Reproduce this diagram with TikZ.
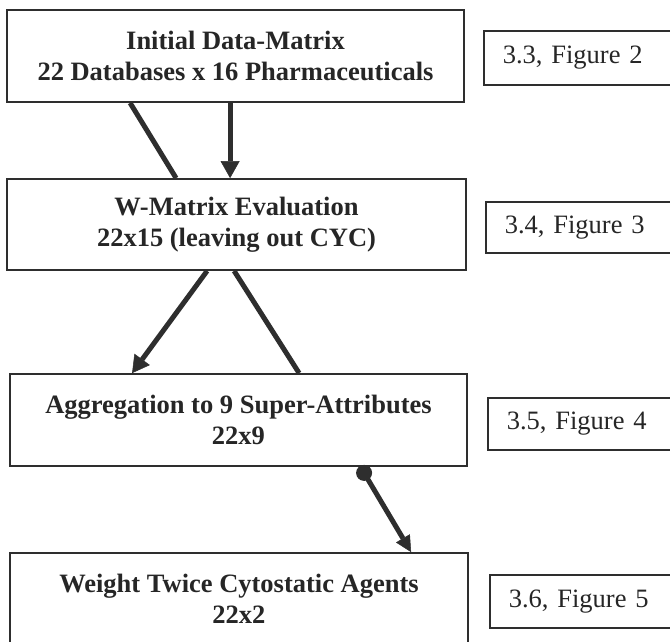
\documentclass[tikz,border=0pt]{standalone}
\usepackage{fontspec}
\setmainfont{Liberation Serif}
\usetikzlibrary{arrows.meta,calc}
\begin{document}
\begin{tikzpicture}[x=1pt,y=-1pt,
  mainbox/.style={draw=black!82, line width=1.8pt, align=center,
    font=\bfseries\fontsize{26.5}{31}\selectfont, text=black!85, inner sep=0pt},
  refbox/.style={draw=black!82, line width=1.6pt, anchor=west, text width=180pt,
    inner xsep=19pt, inner ysep=0pt, align=left,
    font=\fontsize{26.5}{31}\selectfont, text=black!85},
  conn/.style={draw=black!82, line width=5pt},
  arr/.style={conn, -{Triangle[width=19pt,length=17pt,line width=0.5pt]}},
  arrs/.style={conn, -{Triangle[width=16pt,length=16pt,line width=0.5pt]}},
]
\clip (0,0) rectangle (670,641);
\fill[white] (0,0) rectangle (670,641);

% main boxes
\node[mainbox, minimum width=457pt, minimum height=92pt] (b1) at (235.5,56)
  {Initial Data-Matrix\\22 Databases x 16 Pharmaceuticals};
\node[mainbox, minimum width=459pt, minimum height=91pt] (b2) at (236.5,224.5)
  {W-Matrix Evaluation\\22x15 (leaving out CYC)};
\node[mainbox, minimum width=457pt, minimum height=92pt] (b3) at (238.5,420)
  {Aggregation to 9 Super-Attributes\\22x9};
\node[mainbox, minimum width=458pt, minimum height=92pt] (b4) at (239,599)
  {Weight Twice Cytostatic Agents\\22x2};

% reference boxes
\node[refbox, minimum height=54pt] (r1) at (483,58) {3.3, Figure 2};
\node[refbox, minimum height=51pt] (r2) at (485,227.5) {3.4, Figure 3};
\node[refbox, minimum height=52pt] (r3) at (487,424) {3.5, Figure 4};
\node[refbox, minimum height=53pt] (r4) at (489,601.5) {3.6, Figure 5};

% connector end points
\coordinate (l1a) at ($(b1.south west)+(124,0)$);
\coordinate (l1b) at ($(b2.north west)+(170,0)$);
\coordinate (a1a) at ($(b1.south west)+(224,0)$);
\coordinate (a1b) at ($(b2.north west)+(224,0)$);
\coordinate (a2a) at ($(b2.south west)+(201,0)$);
\coordinate (a2b) at ($(b3.north west)+(123,0)$);
\coordinate (l2a) at ($(b2.south west)+(228,0)$);
\coordinate (l2b) at ($(b3.north west)+(290,0)$);
\coordinate (d1) at ($(b3.south west)+(355,6)$);
\coordinate (d2) at ($(b4.north west)+(402,0)$);

% connectors
\draw[conn] (l1a) -- (l1b);
\draw[arr] (a1a) -- (a1b);
\draw[arr] (a2a) -- (a2b);
\draw[conn] (l2a) -- (l2b);
\draw[arrs] (d1) -- (d2);
\fill[black!82] (d1) circle (8pt);
\end{tikzpicture}
\end{document}
